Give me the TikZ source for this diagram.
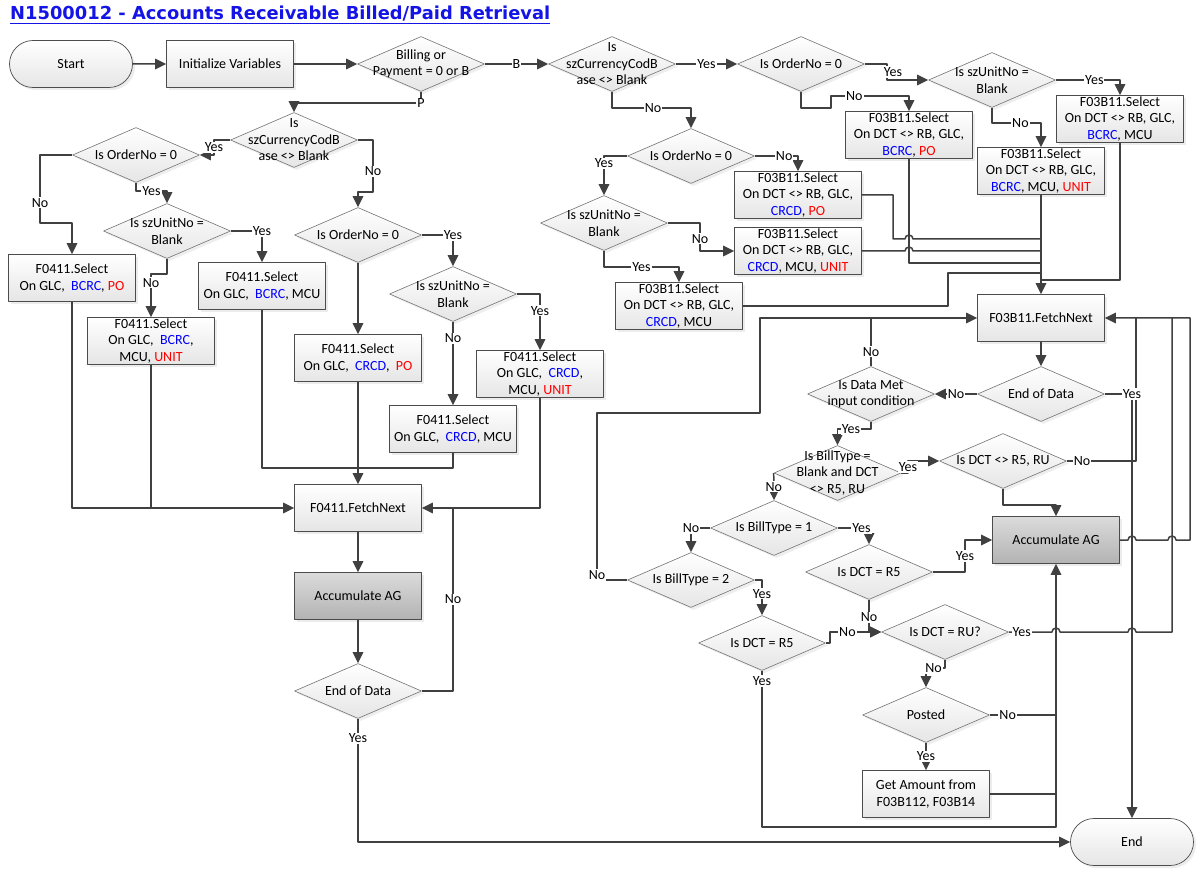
\documentclass[tikz,border=0pt]{standalone}
\usepackage{fontspec}
\setmainfont{Carlito}
\newfontfamily\headfont{DejaVu Sans}
\usetikzlibrary{arrows.meta,shapes.geometric,shapes.misc,shadows}
\definecolor{linegray}{RGB}{64,64,64}
\definecolor{headblue}{RGB}{20,20,230}
\newcommand{\bluetxt}[1]{\textcolor{blue}{#1}}
\newcommand{\redtxt}[1]{\textcolor{red}{#1}}
\begin{document}
\begin{tikzpicture}[x=1pt,y=-1pt,>={Triangle[length=11pt,width=10.5pt]},line join=round,font=\fontsize{14}{16.5}\selectfont,
	box/.style={rectangle,draw=black!70,line width=0.7pt,top color=white,bottom color=black!10,minimum width=127pt,minimum height=47pt,inner xsep=2pt,inner ysep=0pt,align=center,drop shadow={shadow xshift=2.5pt,shadow yshift=-2.5pt,opacity=0.15}},
	accum/.style={box,top color=black!14,bottom color=black!30},
	term/.style={box,rounded rectangle},
	decision/.style={diamond,draw=black!55,line width=0.6pt,top color=white,bottom color=black!10,minimum width=127pt,minimum height=55pt,inner sep=0pt,drop shadow={shadow xshift=2.5pt,shadow yshift=-2.5pt,opacity=0.13}},
	dtext/.style={align=center},
	lbl/.style={fill=white,inner sep=1pt},
	flow/.style={draw=linegray,line width=1.5pt},
	headline/.style={anchor=base west,inner sep=0pt,text=headblue}]
	\fill[white] (0,0) rectangle (1201,874);
	\useasboundingbox (0,0) rectangle (1201,874);
	\node[headline] (head) at (10,20) {\resizebox{540pt}{!}{\headfont\bfseries\underline{N1500012 - Accounts Receivable Billed/Paid Retrieval}}};
	
	\node[term] (start) at (71,64) {Start};
	\node[box] (init) at (230,64) {Initialize Variables};
	\node[decision,label={[dtext]center:{Billing or\\Payment = 0 or B}}] (bill) at (421,64) {};
	\node[decision,label={[dtext]center:{Is\\szCurrencyCodB\\ase <> Blank}}] (curL) at (294,140) {};
	\node[decision,label={[dtext]center:{Is OrderNo = 0}}] (ordL) at (136,155) {};
	\node[box] (selL1) at (72,278) {F0411.Select\\On GLC,\ \ \bluetxt{BCRC}, \redtxt{PO}};
	\node[decision,label={[dtext]center:{Is szUnitNo =\\Blank}}] (unitL) at (167,231) {};
	\node[box] (selL2) at (262,286) {F0411.Select\\On GLC,\ \ \bluetxt{BCRC}, MCU};
	\node[box] (selL3) at (151,341) {F0411.Select\\On GLC,\ \ \bluetxt{BCRC},\\MCU, \redtxt{UNIT}};
	\node[decision,label={[dtext]center:{Is OrderNo = 0}}] (ordM) at (358,235) {};
	\node[decision,label={[dtext]center:{Is szUnitNo =\\Blank}}] (unitM) at (453,294) {};
	\node[box] (selM1) at (358,358) {F0411.Select\\On GLC,\ \ \bluetxt{CRCD},\ \ \redtxt{PO}};
	\node[box] (selM3) at (540,374) {F0411.Select\\On GLC,\ \ \bluetxt{CRCD},\\MCU, \redtxt{UNIT}};
	\node[box] (selM2) at (453,429) {F0411.Select\\On GLC,\ \ \bluetxt{CRCD}, MCU};
	\node[box] (fetchL) at (358,508) {F0411.FetchNext};
	\node[accum] (accumL) at (358,596) {Accumulate AG};
	\node[decision,label={[dtext]center:{End of Data}}] (endL) at (358,691) {};
	
	\node[decision,label={[dtext]center:{Is\\szCurrencyCodB\\ase <> Blank}}] (curR) at (612,64) {};
	\node[decision,label={[dtext]center:{Is OrderNo = 0}}] (ordR) at (801,64) {};
	\node[decision,label={[dtext]center:{Is szUnitNo =\\Blank}}] (unitR) at (992,80) {};
	\node[box] (selR1) at (909,135) {F03B11.Select\\On DCT <> RB, GLC,\\\bluetxt{BCRC}, \redtxt{PO}};
	\node[box] (selR2) at (1120,119) {F03B11.Select\\On DCT <> RB, GLC,\\\bluetxt{BCRC}, MCU};
	\node[box] (selR3) at (1041,171) {F03B11.Select\\On DCT <> RB, GLC,\\\bluetxt{BCRC}, MCU, \redtxt{UNIT}};
	\node[decision,label={[dtext]center:{Is OrderNo = 0}}] (ordR2) at (691,156) {};
	\node[box] (selR4) at (798,195) {F03B11.Select\\On DCT <> RB, GLC,\\\bluetxt{CRCD}, \redtxt{PO}};
	\node[decision,label={[dtext]center:{Is szUnitNo =\\Blank}}] (unitR2) at (604,223) {};
	\node[box] (selR5) at (798,251) {F03B11.Select\\On DCT <> RB, GLC,\\\bluetxt{CRCD}, MCU, \redtxt{UNIT}};
	\node[box] (selR6) at (679,306) {F03B11.Select\\On DCT <> RB, GLC,\\\bluetxt{CRCD}, MCU};
	\node[box] (fetchR) at (1041,318) {F03B11.FetchNext};
	\node[decision,label={[dtext]center:{End of Data}}] (endR) at (1041,394) {};
	\node[decision,label={[dtext]center:{Is Data Met\\input condition}}] (dataMet) at (871,394) {};
	\node[decision,label={[dtext]center:{Is BillType =\\Blank and DCT\\<> R5, RU}}] (billBlank) at (837.5,473) {};
	\node[decision,label={[dtext]center:{Is DCT <> R5, RU}}] (dctNe) at (1003,461) {};
	\node[accum] (accumR) at (1056,540) {Accumulate AG};
	\node[decision,label={[dtext]center:{Is BillType = 1}}] (billT1) at (774,528) {};
	\node[decision,label={[dtext]center:{Is BillType = 2}}] (billT2) at (691,580) {};
	\node[decision,label={[dtext]center:{Is DCT = R5}}] (dctR5a) at (869,572) {};
	\node[decision,label={[dtext]center:{Is DCT = R5}}] (dctR5b) at (762,643) {};
	\node[decision,label={[dtext]center:{Is DCT = RU?}}] (dctRU) at (945,632) {};
	\node[decision,label={[dtext]center:{Posted}}] (posted) at (926,715) {};
	\node[box] (getAmt) at (926,794) {Get Amount from\\F03B112, F03B14};
	\node[term] (endN) at (1132,842) {End};
	
	\draw[flow,->] (start) -- (init);
	\draw[flow,->] (init) -- (bill);
	\draw[flow,->] (bill) -- node[lbl]{B} (curR);
	\draw[flow,->] (bill.south) -- (421,103) node[lbl]{P} -| (curL.north);
	\draw[flow,->] (curL.west) -- (214,140) -- node[lbl]{Yes} (214,155) -- (ordL.east);
	\draw[flow,->] (ordL.west) -- (40,155) -- node[lbl,pos=0.7]{No} (40,223) -| (selL1.north);
	\draw[flow,->] (ordL.south) -- (136,191) -| node[lbl,pos=0.25]{Yes} (unitL.north);
	\draw[flow,->] (unitL.east) -| node[lbl]{Yes} (selL2.north);
	\draw[flow,->] (unitL.south) -- (167,274) -| node[lbl,pos=0.6]{No} (selL3.north);
	\draw[flow,->] (curL.east) -- (373,140) -- node[lbl,pos=0.6]{No} (373,192) -| (ordM.north);
	\draw[flow,->] (ordM.east) -| node[lbl]{Yes} (unitM.north);
	\draw[flow,->] (ordM) -- (selM1);
	\draw[flow,->] (unitM.east) -- (540,294) -- node[lbl,pos=0.3]{Yes} (selM3.north);
	\draw[flow,->] (unitM) -- node[lbl,pos=0.2]{No} (selM2);
	\draw[flow,->] (selL1.south) |- (fetchL.west);
	\draw[flow] (selL3.south) -- (151,508);
	\draw[flow] (selL2.south) |- (358,468);
	\draw[flow] (selM2.south) |- (358,468);
	\draw[flow,->] (selM1) -- (fetchL);
	\draw[flow,->] (selM3.south) |- (fetchL.east);
	\draw[flow,->] (fetchL) -- (accumL);
	\draw[flow,->] (accumL) -- (endL);
	\draw[flow] (endL.east) -| node[lbl,pos=0.75]{No} (453,508);
	\draw[flow,->] (endL.south) -- node[lbl,pos=0.16]{Yes} (358,842) -- (endN.west);
	
	\draw[flow,->] (curR) -- node[lbl]{Yes} (ordR);
	\draw[flow,->] (ordR.east) -- (887,64) -- node[lbl,xshift=6pt]{Yes} (887,80) -- (unitR.west);
	\draw[flow,->] (ordR.south) -- (801,108) -- (831,108) -- (831,96) -| node[lbl,pos=0.15]{No} (selR1.north);
	\draw[flow,->] (unitR.east) -| node[lbl,pos=0.3]{Yes} (selR2.north);
	\draw[flow,->] (unitR.south) -- (992,123) -| node[lbl,pos=0.29]{No} (selR3.north);
	\draw[flow,->] (curR.south) -- (612,108) -| node[lbl,pos=0.26]{No} (ordR2.north);
	\draw[flow,->] (ordR2.east) -| node[lbl,pos=0.34]{No} (selR4.north);
	\draw[flow,->] (ordR2.west) -| node[lbl,pos=0.59]{Yes} (unitR2.north);
	\draw[flow,->] (unitR2.east) -- (700,223) -- node[lbl,pos=0.57]{No} (700,251) -- (selR5.west);
	\draw[flow,->] (unitR2.south) -- (604,267) -| node[lbl,pos=0.25]{Yes} (selR6.north);
	\draw[flow] (selR4.east) -- (893,195) -- (893,239) -- (905,239) arc[start angle=180,end angle=0,radius=4pt] -- (1041,239);
	\draw[flow] (selR5.east) -- (905,251) arc[start angle=180,end angle=0,radius=4pt] -- (1041,251);
	\draw[flow] (selR1.south) |- (1041,263);
	\draw[flow] (selR6.east) -- (948,306) -- (948,273) -- (1041,273);
	\draw[flow] (selR2.south) |- (1041,280);
	\draw[flow,->] (selR3) -- (fetchR);
	\draw[flow,->] (fetchR) -- (endR);
	\draw[flow,->] (endR) -- node[lbl]{No} (dataMet);
	\draw[flow] (dataMet.north) -- node[lbl,pos=0.3]{No} (871,318);
	\draw[flow,->] (billT2.west) -- (597,580) -- node[lbl,pos=0.03]{No} (597,413) -- (760,413) -- (760,318) -- (fetchR.west);
	\draw[flow,->] (dataMet.south) -- (871,429) -| node[lbl,pos=0.3]{Yes} (billBlank.north);
	\draw[flow,->] (billBlank.east) -- (908,473) -- node[lbl]{Yes} (908,461) -- (dctNe.west);
	\draw[flow,->] (billBlank.west) -- node[lbl]{No} (billT1.north);
	\draw[flow,->] (billT1.west) -| node[lbl]{No} (billT2.north);
	\draw[flow,->] (billT1.east) -| node[lbl,pos=0.38]{Yes} (dctR5a.north);
	\draw[flow,->] (billT2.east) -- (762,580) -- node[lbl,pos=0.39]{Yes} (dctR5b.north);
	\draw[flow,->] (dctR5a.east) -- (965,572) |- node[lbl,pos=0.25]{Yes} (accumR.west);
	\draw[flow,->] (dctR5a.south) |- node[lbl,pos=0.27]{No} (dctRU.west);
	\draw[flow,->] (dctR5b.east) -- (830,643) -- (830,632) -- node[lbl,pos=0.34]{No} (dctRU.west);
	\draw[flow,->] (dctR5b.south) -- node[lbl,pos=0.065]{Yes} (762,827) -| (accumR.south);
	\draw[flow] (dctNe.east) -- node[lbl,pos=0.22]{No} (1136,461) -- (1136,318);
	\draw[flow,->] (endR.east) -- (1132,394) node[lbl]{Yes} -- (endN.north);
	\draw[flow] (dctRU.east) -- node[lbl,pos=0.3]{Yes} (1052,632) arc[start angle=180,end angle=0,radius=4pt] -- (1128,632) arc[start angle=180,end angle=0,radius=4pt] -- (1172,632) -- (1172,318);
	\draw[flow,->] (dctRU.south) -- (945,668) -| node[lbl,pos=0.3]{No} (posted.north);
	\draw[flow] (posted.east) -- node[lbl,pos=0.27]{No} (1056,715);
	\draw[flow,->] (posted) -- node[lbl]{Yes} (getAmt);
	\draw[flow] (getAmt.east) -- (1056,794);
	\draw[flow,->] (dctNe.south) -- (1003,505) -| (accumR.north);
	\draw[flow,->] (accumR.east) -- (1128,540) arc[start angle=180,end angle=0,radius=4pt] -- (1168,540) arc[start angle=180,end angle=0,radius=4pt] -- (1190,540) -- (1190,318) -- (fetchR.east);
\end{tikzpicture}
\end{document}
